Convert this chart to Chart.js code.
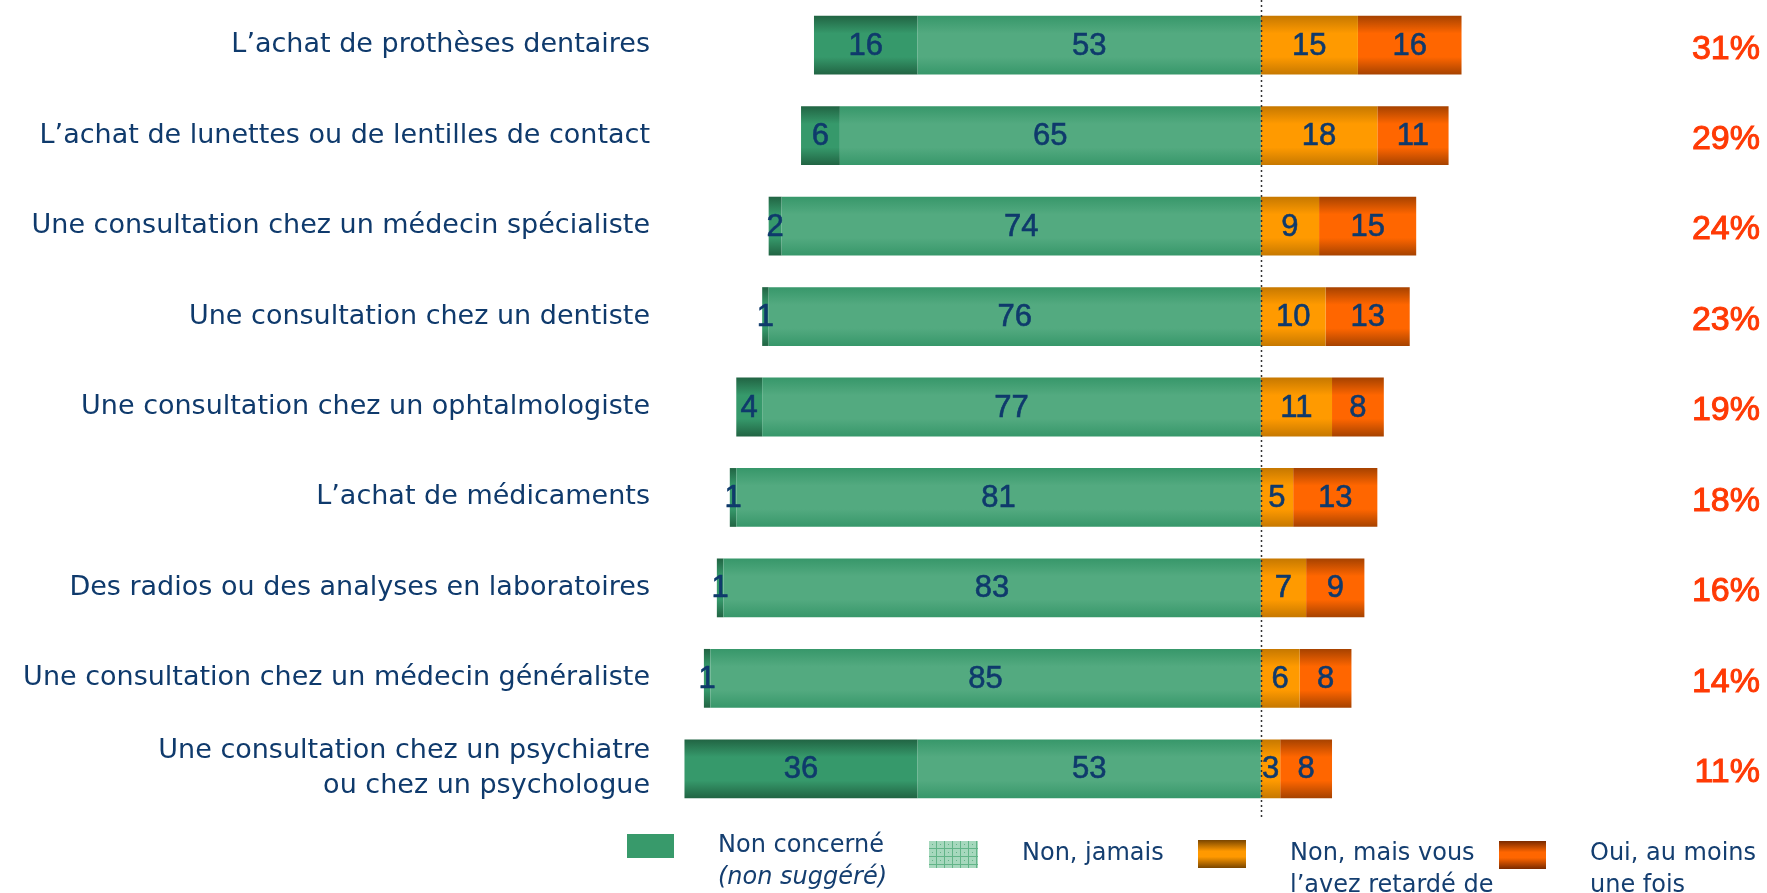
<!DOCTYPE html>
<html>
<head>
<meta charset="utf-8">
<script src="https://cdn.jsdelivr.net/npm/chart.js@4"></script>
<style>
  body { margin: 0; background: #fff; }
  #wrap { width: 1767px; height: 893px; position: relative; }
</style>
</head>
<body>
<div id="wrap"><canvas id="renoncementChart" width="1767" height="893"></canvas></div>
<script>
var categories = [
  "L\u2019achat de prothèses dentaires",
  "L\u2019achat de lunettes ou de lentilles de contact",
  "Une consultation chez un médecin spécialiste",
  "Une consultation chez un dentiste",
  "Une consultation chez un ophtalmologiste",
  "L\u2019achat de médicaments",
  "Des radios ou des analyses en laboratoires",
  "Une consultation chez un médecin généraliste",
  ["Une consultation chez un psychiatre", "ou chez un psychologue"]
];
var nonConcerne = [16, 6, 2, 1, 4, 1, 1, 1, 36];
var nonJamais = [53, 65, 74, 76, 77, 81, 83, 85, 53];
var nonRetarde = [15, 18, 9, 10, 11, 5, 7, 6, 3];
var ouiUneFois = [16, 11, 15, 13, 8, 13, 9, 8, 8];
var legendTexts = [
  ["Non concerné", "(non suggéré)"],
  ["Non, jamais"],
  ["Non, mais vous", "l\u2019avez retardé de"],
  ["Oui, au moins", "une fois"]
];

(function () {
  var navy = "#0F3A6C";
  var sans = '"DejaVu Sans", sans-serif';
  var arial = '"Liberation Sans", Arial, sans-serif';
  var barPct = 0.65;

  function barGradient(edge, mid) {
    return function (ctx) {
      var chart = ctx.chart;
      var ca = chart.chartArea;
      if (!ca || ctx.dataIndex === undefined) return mid;
      var cy = chart.scales.y.getPixelForValue(ctx.dataIndex);
      var half = (ca.bottom - ca.top) / categories.length * barPct / 2;
      var g = chart.ctx.createLinearGradient(0, cy - half, 0, cy + half);
      g.addColorStop(0, edge);
      g.addColorStop(0.3, mid);
      g.addColorStop(0.7, mid);
      g.addColorStop(1, edge);
      return g;
    };
  }

  function boxGradient(c, y, h, edge, mid) {
    var g = c.createLinearGradient(0, y, 0, y + h);
    g.addColorStop(0, edge);
    g.addColorStop(0.4, mid);
    g.addColorStop(0.6, mid);
    g.addColorStop(1, edge);
    return g;
  }

  // numbers inside segments
  var segmentLabels = {
    id: "segmentLabels",
    afterDatasetsDraw: function (chart) {
      var c = chart.ctx;
      c.save();
      c.font = "31px " + arial;
      c.fillStyle = navy;
      c.strokeStyle = navy;
      c.lineWidth = 0.6;
      c.textAlign = "center";
      c.textBaseline = "middle";
      chart.data.datasets.forEach(function (ds, di) {
        var meta = chart.getDatasetMeta(di);
        meta.data.forEach(function (bar, i) {
          var p = bar.getProps(["x", "y", "base"], true);
          var txt = String(Math.abs(ds.data[i]));
          c.fillText(txt, (p.x + p.base) / 2, p.y + 1);
          c.strokeText(txt, (p.x + p.base) / 2, p.y + 1);
        });
      });
      c.restore();
    }
  };

  // dotted zero line + totals on the right
  var extras = {
    id: "extras",
    afterDatasetsDraw: function (chart) {
      var c = chart.ctx;
      var x0 = Math.round(chart.scales.x.getPixelForValue(0)) + 0.5;
      c.save();
      c.strokeStyle = "#333";
      c.lineWidth = 1.5;
      c.setLineDash([2, 3]);
      c.beginPath();
      c.moveTo(x0, 0);
      c.lineTo(x0, chart.chartArea.bottom + 3);
      c.stroke();
      c.setLineDash([]);

      c.font = "34px " + arial;
      c.fillStyle = "#FF3A05";
      c.strokeStyle = "#FF3A05";
      c.lineWidth = 1;
      c.textAlign = "right";
      c.textBaseline = "middle";
      for (var i = 0; i < categories.length; i++) {
        var y = chart.scales.y.getPixelForValue(i) + 4;
        var txt = (nonRetarde[i] + ouiUneFois[i]) + "%";
        c.fillText(txt, chart.width - 7, y);
        c.strokeText(txt, chart.width - 7, y);
      }
      c.restore();
    }
  };

  // legend under the chart
  var legendBoxes = [
    { x: 627, y: 834, w: 47, h: 24 },
    { x: 929, y: 841, w: 49, h: 27 },
    { x: 1198, y: 840, w: 48, h: 28 },
    { x: 1499, y: 841, w: 47, h: 28 }
  ];
  var customLegend = {
    id: "customLegend",
    afterDraw: function (chart) {
      var c = chart.ctx;
      c.save();
      legendBoxes.forEach(function (b, k) {
        if (k === 0) {
          c.fillStyle = "#389A6B";
        } else if (k === 1) {
          var pc = document.createElement("canvas");
          pc.width = 8; pc.height = 8;
          var pctx = pc.getContext("2d");
          pctx.fillStyle = "#A6D8BD";
          pctx.fillRect(0, 0, 8, 8);
          pctx.fillStyle = "#62B488";
          pctx.fillRect(0, 0, 8, 1);
          pctx.fillRect(0, 0, 1, 8);
          pctx.fillRect(4, 4, 1, 1);
          c.fillStyle = c.createPattern(pc, "repeat");
        } else if (k === 2) {
          c.fillStyle = boxGradient(c, b.y, b.h, "#7A4600", "#FF9900");
        } else {
          c.fillStyle = boxGradient(c, b.y, b.h, "#7A2A00", "#FF6600");
        }
        c.fillRect(b.x, b.y, b.w, b.h);

        c.fillStyle = "#143E70";
        c.textAlign = "left";
        c.textBaseline = "middle";
        legendTexts[k].forEach(function (t, li) {
          c.font = (k === 0 && li === 1 ? "italic " : "") + "24px " + sans;
          var ty = (k === 0 ? 846 : 854) + li * 32;
          c.fillText(t, b.x + b.w + 44, ty);
        });
      });
      c.restore();
    }
  };

  var datasets = [
    {
      label: "Non, jamais",
      data: nonJamais.map(function (v) { return -v; }),
      backgroundColor: barGradient("#37976A", "#53AA80")
    },
    {
      label: "Non concerné",
      data: nonConcerne.map(function (v) { return -v; }),
      backgroundColor: barGradient("#216443", "#36996B")
    },
    {
      label: "Non, mais vous l\u2019avez retardé",
      data: nonRetarde,
      backgroundColor: barGradient("#C67800", "#FF9A00")
    },
    {
      label: "Oui, au moins une fois",
      data: ouiUneFois,
      backgroundColor: barGradient("#A64200", "#FF6600")
    }
  ];

  new Chart(document.getElementById("renoncementChart"), {
    type: "bar",
    data: { labels: categories, datasets: datasets },
    options: {
      indexAxis: "y",
      responsive: false,
      animation: false,
      datasets: { bar: { barPercentage: barPct, categoryPercentage: 1, borderWidth: 0 } },
      layout: { autoPadding: false, padding: { top: 0, right: 299, bottom: 79, left: 0 } },
      plugins: { legend: { display: false }, tooltip: { enabled: false } },
      scales: {
        x: { stacked: true, min: -90, max: 32, display: false },
        y: {
          stacked: true,
          grid: { display: false },
          border: { display: false },
          afterFit: function (s) {
            s.width = 678;
            s.paddingTop = 0;
            s.paddingBottom = 0;
          },
          ticks: {
            color: navy,
            padding: 20,
            font: { family: sans, size: 27, lineHeight: 1.3 }
          }
        }
      }
    },
    plugins: [segmentLabels, extras, customLegend]
  });
})();
</script>
</body>
</html>
